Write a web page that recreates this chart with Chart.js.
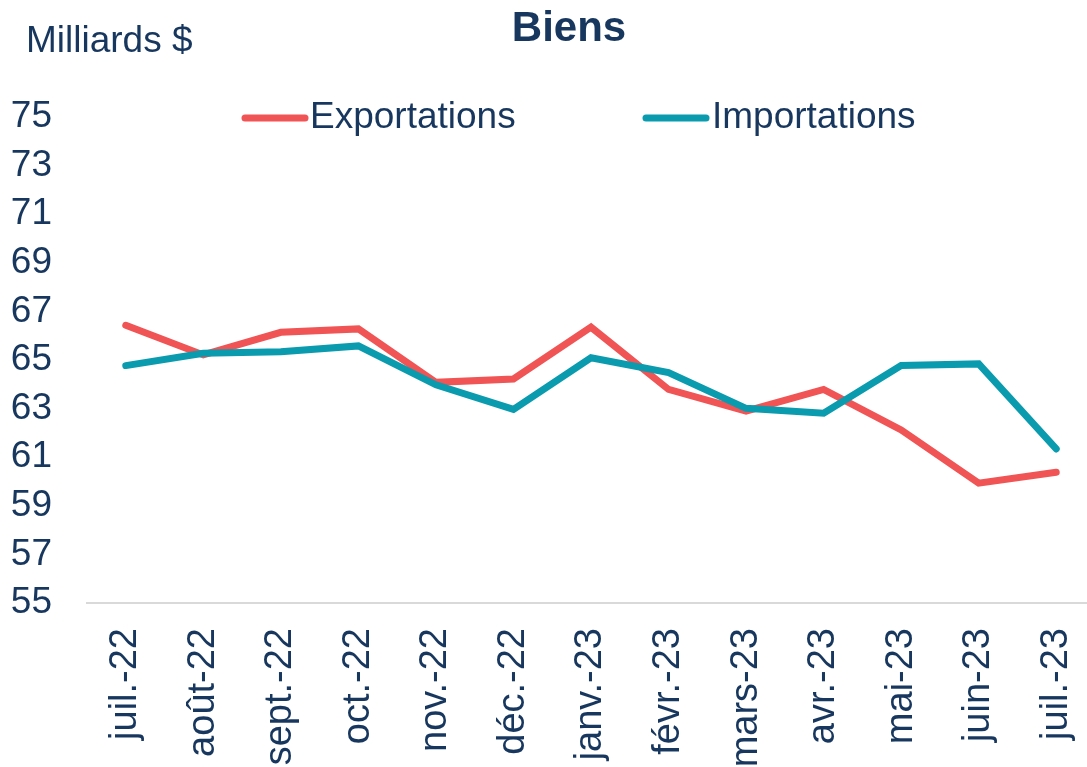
<!DOCTYPE html>
<html>
<head>
<meta charset="utf-8">
<script src="https://cdn.jsdelivr.net/npm/chart.js@4.4.1/dist/chart.umd.min.js"></script>
<style>
html,body{margin:0;padding:0;overflow:hidden;background:#ffffff;}
#wrap{position:relative;width:1138px;height:767px;}
</style>
</head>
<body>
<div id="wrap"><canvas id="c"></canvas></div>
<script>
// ---- Data ----
const categories = ['juil.-22','août-22','sept.-22','oct.-22','nov.-22','déc.-22','janv.-23','févr.-23','mars-23','avr.-23','mai-23','juin-23','juil.-23'];
const exportations = [66.43, 65.21, 66.14, 66.28, 64.08, 64.22, 66.35, 63.79, 62.90, 63.79, 62.12, 59.93, 60.38];
const importations = [64.77, 65.28, 65.34, 65.58, 63.98, 62.97, 65.09, 64.48, 63.01, 62.81, 64.77, 64.84, 61.34];
const yTicks = [55, 57, 59, 61, 63, 65, 67, 69, 71, 73, 75];
const seriesNames = ['Exportations', 'Importations'];
const chartTitle = 'Biens';
const unitLabel = 'Milliards $';

// ---- Styles ----
const TEXT = '#17375E';
const RED = '#F05454';
const TEAL = '#0A9BAF';
const FONT = '"Liberation Sans", Arial, Helvetica, sans-serif';

const legendPlugin = {
  id: 'customLegend',
  afterDraw(chart) {
    const ctx = chart.ctx;
    ctx.save();
    ctx.font = '37px ' + FONT;
    ctx.fillStyle = TEXT;
    ctx.textAlign = 'left';
    ctx.textBaseline = 'alphabetic';
    ctx.fillText(unitLabel, 26, 52);
    const items = [{x: 245, tx: 310}, {x: 646, tx: 712}];
    chart.data.datasets.forEach((ds, i) => {
      const it = items[i];
      ctx.strokeStyle = ds.borderColor;
      ctx.lineWidth = 7;
      ctx.lineCap = 'round';
      ctx.beginPath();
      ctx.moveTo(it.x, 118);
      ctx.lineTo(it.x + 60, 118);
      ctx.stroke();
      ctx.fillText(ds.label, it.tx, 128);
    });
    ctx.restore();
  }
};

Chart.defaults.font.family = FONT;
Chart.defaults.color = TEXT;

new Chart(document.getElementById('c'), {
  type: 'line',
  data: {
    labels: categories,
    datasets: [
      {label: seriesNames[0], data: exportations, borderColor: RED, backgroundColor: RED,
       borderWidth: 7, pointRadius: 0, borderCapStyle: 'round', tension: 0, order: 1},
      {label: seriesNames[1], data: importations, borderColor: TEAL, backgroundColor: TEAL,
       borderWidth: 7, pointRadius: 0, borderCapStyle: 'round', tension: 0, order: 0}
    ]
  },
  options: {
    responsive: true,
    maintainAspectRatio: false,
    animation: false,
    devicePixelRatio: 1,
    layout: {padding: 0},
    plugins: {
      legend: {display: false},
      tooltip: {enabled: false},
      title: {
        display: true, text: chartTitle, color: TEXT,
        font: {size: 42, weight: 'bold', family: FONT},
        padding: {top: 4, bottom: 62.6}
      }
    },
    scales: {
      x: {
        offset: true,
        grid: {display: false, drawTicks: false},
        border: {display: true, color: '#D9D9D9', width: 2},
        ticks: {autoSkip: false, maxRotation: 90, minRotation: 90, padding: 25,
                color: TEXT, font: {size: 38, family: FONT}},
        afterFit(scale) { scale.height = 164; scale.paddingLeft = 0; scale.paddingRight = 0; }
      },
      y: {
        position: 'left',
        min: yTicks[0], max: yTicks[yTicks.length - 1],
        grid: {display: false, drawTicks: false},
        border: {display: false},
        ticks: {stepSize: yTicks[1] - yTicks[0], autoSkip: false, padding: 35,
                color: TEXT, font: {size: 37, family: FONT}},
        afterFit(scale) { scale.width = 87; scale.paddingTop = 0; scale.paddingBottom = 0; }
      },
      yRight: {
        position: 'right',
        min: yTicks[0], max: yTicks[yTicks.length - 1],
        grid: {display: false, drawTicks: false},
        border: {display: false},
        ticks: {display: false},
        afterFit(scale) { scale.width = 43; scale.paddingTop = 0; scale.paddingBottom = 0; }
      }
    }
  },
  plugins: [legendPlugin]
});
</script>
</body>
</html>
